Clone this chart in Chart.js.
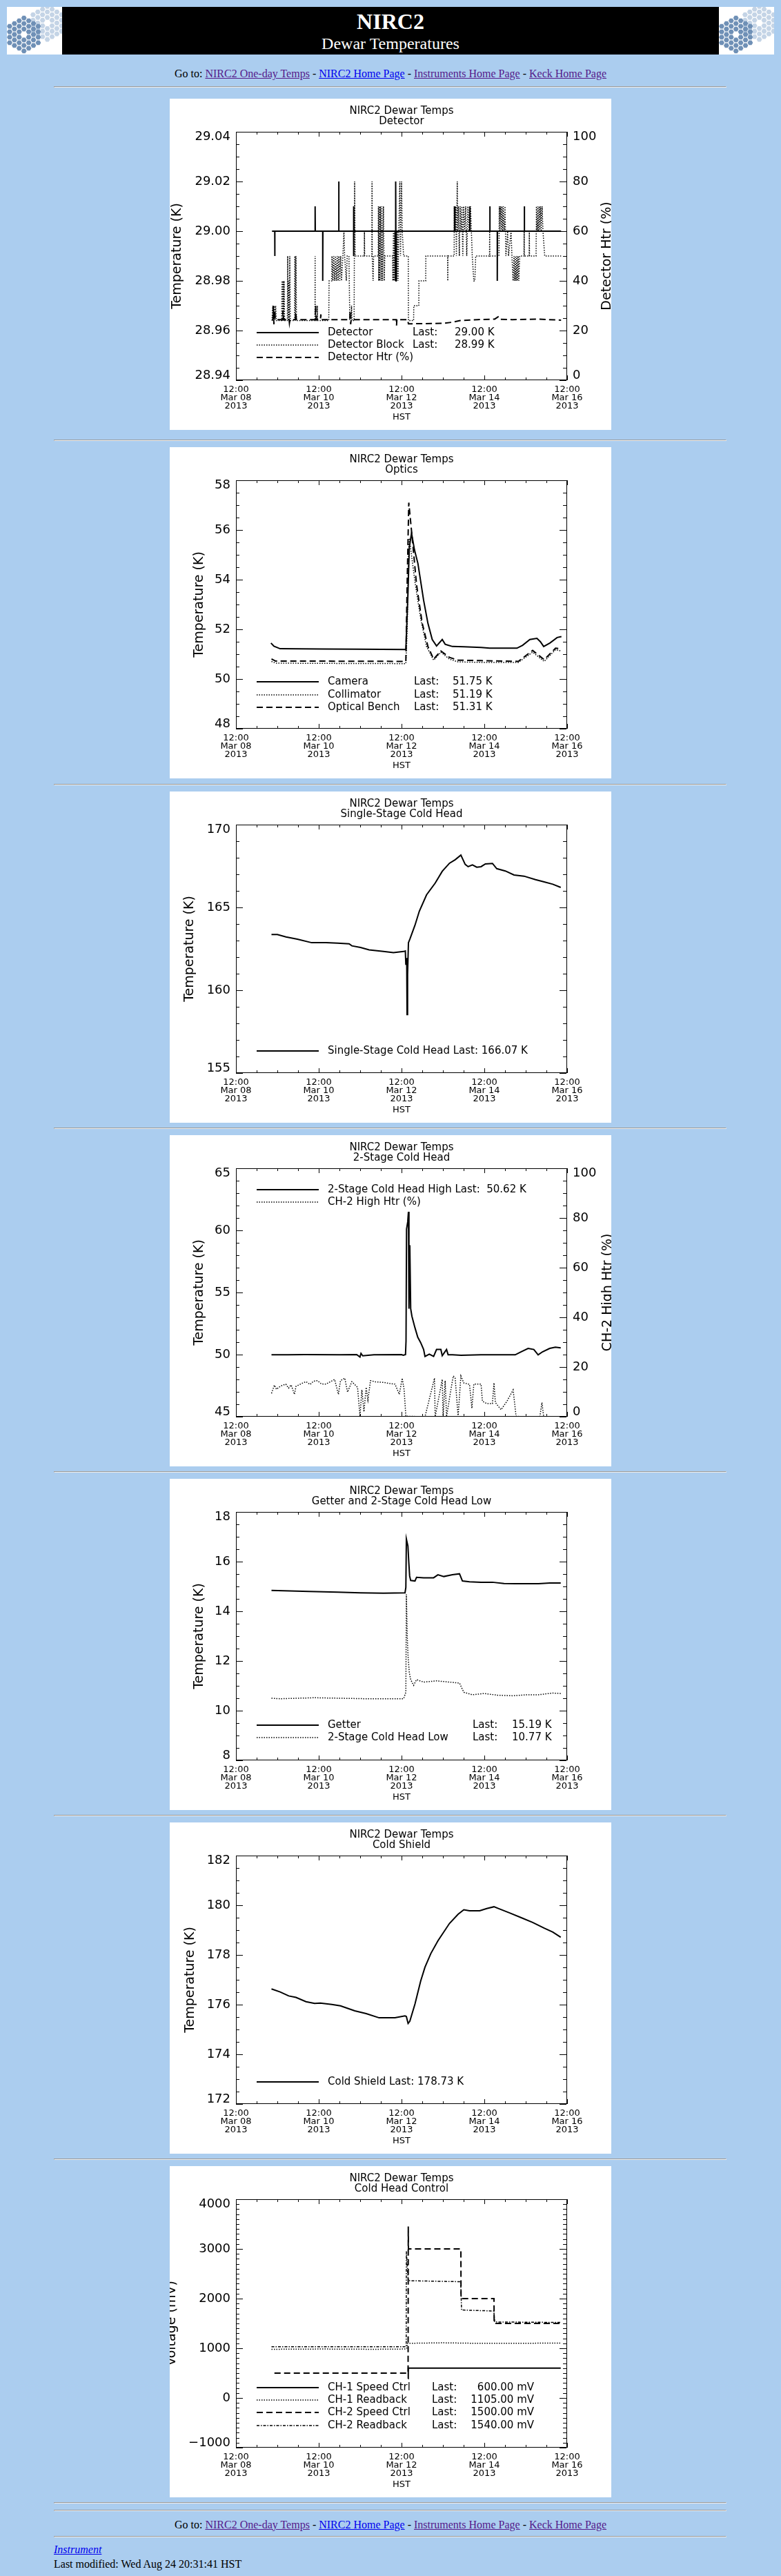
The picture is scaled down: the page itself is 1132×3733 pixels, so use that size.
<!DOCTYPE html>
<html>
<head>
<meta charset="utf-8">
<title>NIRC2 Dewar Temperatures</title>
<script src="https://cdn.jsdelivr.net/npm/chart.js@4.4.1/dist/chart.umd.min.js"></script>
<style>
  body { margin: 0; background: #abcdef; font-family: "Liberation Serif", "Times New Roman", serif; font-size: 16px; color: #000; }
  #page { position: relative; width: 1132px; height: 3733px; overflow: hidden; }
  .logo { position: absolute; top: 10px; width: 80px; height: 69px; background: #fff; }
  #banner { position: absolute; left: 90px; top: 10px; width: 952px; height: 69px; background: #000; color: #fff; text-align: center; }
  #banner div { position: absolute; left: 0; width: 952px; }
  hr { position: absolute; left: 78px; width: 973px; margin: 0; }
  .plot { position: absolute; left: 246px; width: 640px; height: 480px; background: #fff; }
  .goto { position: absolute; left: 0; width: 1132px; text-align: center; line-height: 18px; white-space: nowrap; }
  .foot { position: absolute; left: 78px; line-height: 18px; white-space: nowrap; }
  a.v { color: #551a8b; }
  a.n { color: #0000ee; }
</style>
</head>
<body>
<div id="page">
  <canvas class="logo" id="logoL" width="80" height="69" style="left:10px"></canvas>
  <div id="banner">
    <div style="top:4.9px;font:bold 32px/32px 'Liberation Serif',serif">NIRC2</div>
    <div style="top:40.6px;font:24px/24px 'Liberation Serif',serif">Dewar Temperatures</div>
  </div>
  <canvas class="logo" id="logoR" width="80" height="69" style="left:1042px"></canvas>

  <div class="goto" style="top:98.3px">Go to: <a class="v" href="#">NIRC2 One-day Temps</a> - <a class="n" href="#">NIRC2 Home Page</a> - <a class="v" href="#">Instruments Home Page</a> - <a class="v" href="#">Keck Home Page</a></div>
  <hr style="top:125px">

  <canvas class="plot" id="c1" width="640" height="480" style="top:143px"></canvas>
  <hr style="top:637px">
  <canvas class="plot" id="c2" width="640" height="480" style="top:648px"></canvas>
  <hr style="top:1136px">
  <canvas class="plot" id="c3" width="640" height="480" style="top:1147px"></canvas>
  <hr style="top:1634px">
  <canvas class="plot" id="c4" width="640" height="480" style="top:1645px"></canvas>
  <hr style="top:2132px">
  <canvas class="plot" id="c5" width="640" height="480" style="top:2143px"></canvas>
  <hr style="top:2630px">
  <canvas class="plot" id="c6" width="640" height="480" style="top:2641px"></canvas>
  <hr style="top:3128px">
  <canvas class="plot" id="c7" width="640" height="480" style="top:3139px"></canvas>
  <hr style="top:3626px">
  <hr style="top:3637px">

  <div class="goto" style="top:3649.6px">Go to: <a class="v" href="#">NIRC2 One-day Temps</a> - <a class="n" href="#">NIRC2 Home Page</a> - <a class="v" href="#">Instruments Home Page</a> - <a class="v" href="#">Keck Home Page</a></div>
  <hr style="top:3675px">
  <div class="foot" style="top:3686.3px"><a class="n" href="#"><i>Instrument</i></a></div>
  <div class="foot" style="top:3707px">Last modified: Wed Aug 24 20:31:41 HST</div>
</div>

<script>
// x values are hours after 12:00 HST, Mar 08 2013
const xTickHours = [0, 48, 96, 144, 192];
const xTickLabels = [
    ["12:00", "Mar 08", "2013"],
    ["12:00", "Mar 10", "2013"],
    ["12:00", "Mar 12", "2013"],
    ["12:00", "Mar 14", "2013"],
    ["12:00", "Mar 16", "2013"]
];
const xMinorStep = 12;

// Detector
const detHours = [20.9, 22.5, 22.5, 22.6, 45.9, 45.9, 46.0, 50.3, 50.3, 50.4, 59.6, 59.6, 59.7,
    68.2, 68.2, 68.3, 68.4, 92.4, 92.5, 92.6, 92.7, 92.8, 92.9, 126.6, 126.7, 126.8, 126.9, 127.0,
    135.6, 135.6, 135.7, 147.2, 147.2, 147.3, 151.5, 151.5, 151.6, 167.2, 167.2, 167.3, 188.5];
const detK = [29.00, 29.00, 28.99, 29.00, 29.00, 29.01, 29.00, 29.00, 28.98, 29.00, 29.00, 29.02, 29.00,
    29.00, 28.99, 29.01, 29.00, 29.00, 29.02, 28.98, 29.02, 28.98, 29.00, 29.00, 29.01, 29.00, 29.01, 29.00,
    29.00, 29.01, 29.00, 29.00, 29.01, 29.00, 29.00, 28.98, 29.00, 29.00, 29.01, 29.00, 29.00];
const blockHours = [
    20.9, 21.3, 21.7, 22.1, 22.5, 23.0, 23.4, 26.5, 26.7, 27.0,
    27.3, 27.6, 27.9, 28.2, 29.8, 30.0, 30.3, 30.6, 30.9, 31.2,
    31.5, 34.0, 34.2, 34.5, 34.8, 35.1, 45.8, 45.9, 46.0, 47.1,
    47.2, 47.3, 53.8, 54.0, 55.5, 55.7, 56.2, 56.7, 57.2, 57.7,
    58.2, 58.7, 59.2, 59.7, 60.2, 60.7, 61.2, 62.0, 62.6, 63.0,
    64.0, 64.5, 65.5, 66.0, 66.8, 67.0, 67.3, 68.5, 68.8, 69.1,
    74.4, 74.5, 74.6, 78.8, 78.9, 79.0, 79.5, 79.8, 82.5, 82.6,
    82.8, 83.1, 83.4, 83.8, 84.2, 84.6, 85.0, 85.5, 86.0, 86.3,
    90.8, 91.0, 91.3, 91.6, 92.0, 92.3, 92.8, 93.2, 93.6, 94.0,
    94.4, 95.0, 95.4, 96.0, 96.4, 97.2, 99.9, 100.0, 103.0, 103.1,
    106.0, 106.1, 110.0, 110.1, 122.7, 122.8, 122.9, 126.5, 126.6, 127.0,
    127.4, 127.8, 128.3, 128.6, 129.0, 129.5, 130.0, 130.5, 131.0, 131.5,
    132.0, 132.6, 133.2, 133.8, 134.5, 135.2, 136.0, 137.0, 137.9, 138.5,
    139.0, 147.0, 147.1, 147.2, 152.5, 152.7, 153.0, 153.4, 153.8, 154.2,
    154.6, 155.0, 155.5, 156.0, 156.5, 157.5, 158.0, 159.5, 160.0, 160.7,
    161.2, 161.6, 162.0, 162.4, 162.8, 163.2, 163.6, 164.0, 164.5, 167.0,
    167.1, 167.2, 170.0, 170.1, 170.2, 174.0, 174.2, 174.6, 175.0, 175.4,
    175.8, 176.2, 176.6, 177.0, 177.5, 178.0, 179.0, 188.5];
const blockK = [
    28.964, 28.97, 28.964, 28.97, 28.964, 28.97, 28.964, 28.964, 28.98, 28.964,
    28.98, 28.964, 28.98, 28.964, 28.964, 28.99, 28.964, 28.98, 28.964, 28.99,
    28.964, 28.964, 28.99, 28.964, 28.99, 28.964, 28.964, 28.99, 28.964, 28.964,
    28.97, 28.964, 28.964, 28.98, 28.98, 28.99, 28.98, 28.99, 28.98, 28.99,
    28.98, 28.99, 28.98, 28.99, 28.98, 28.99, 28.98, 28.99, 29.00, 28.99,
    28.98, 28.99, 28.99, 28.964, 28.964, 28.97, 28.964, 28.964, 29.02, 28.99,
    28.99, 29.00, 28.99, 28.99, 29.02, 28.99, 28.98, 28.99, 28.99, 29.01,
    28.98, 29.01, 28.98, 29.01, 28.98, 29.01, 28.98, 29.01, 28.98, 28.99,
    28.99, 28.98, 29.00, 28.98, 29.00, 28.98, 29.00, 28.98, 29.00, 28.98,
    29.00, 29.02, 28.99, 29.02, 29.00, 28.99, 28.99, 28.964, 28.964, 28.97,
    28.97, 28.98, 28.98, 28.99, 28.99, 28.98, 28.99, 28.99, 29.01, 29.00,
    29.01, 28.99, 29.02, 29.00, 29.01, 28.99, 29.01, 29.00, 29.01, 28.99,
    29.01, 29.00, 29.01, 28.99, 29.01, 29.00, 29.01, 28.99, 28.98, 28.98,
    28.99, 28.99, 29.00, 28.99, 28.99, 29.01, 29.00, 29.01, 29.00, 29.01,
    29.00, 29.01, 29.00, 29.01, 28.99, 29.00, 28.99, 29.00, 28.99, 28.98,
    28.99, 28.98, 28.99, 28.98, 28.99, 28.98, 28.99, 28.98, 28.99, 28.99,
    29.00, 28.99, 28.99, 29.00, 28.99, 28.99, 29.01, 29.00, 29.01, 29.00,
    29.01, 29.00, 29.01, 29.00, 29.01, 29.00, 28.99, 28.99];
const htrHours = [20.9, 21.5, 21.6, 22.0, 22.4, 22.8, 27.0, 27.2, 27.6, 30.8, 31.0, 31.3, 34.5, 34.7, 35.0,
    46.0, 46.2, 46.5, 49.0, 49.2, 49.5, 66.0, 66.2, 66.5, 66.8, 93.0, 93.1, 93.3, 99.5, 100.0,
    120.0, 126.0, 130.0, 140.0, 150.0, 152.0, 153.0, 160.0, 175.0, 188.5];
const htrPct = [24.4, 24.4, 29.9, 22.5, 28.0, 24.4, 24.4, 28.0, 24.4, 24.4, 23.0, 24.4, 24.4, 27.0, 24.4,
    24.4, 30.0, 24.4, 24.4, 26.5, 24.4, 24.4, 28.0, 22.5, 24.4, 24.4, 22.0, 24.4, 24.4, 22.7,
    22.9, 23.4, 24.0, 24.4, 24.6, 25.5, 24.5, 24.4, 24.6, 24.2];

// Optics
const cameraHours = [20.3, 22.0, 25.6, 50.0, 70.0, 98.5, 99.7, 100.5, 101.8, 103.5, 105.5, 108.8, 111.3,
    113.8, 116.3, 119.6, 121.3, 123.0, 125.5, 132.1, 142.1, 147.1, 162.9, 166.2, 170.4, 174.5, 176.5,
    178.4, 182.0, 186.2, 188.7];
const cameraK = [51.45, 51.32, 51.22, 51.21, 51.20, 51.19, 53.4, 55.3, 55.87, 55.2, 54.65, 53.17, 52.24,
    51.59, 51.33, 51.59, 51.40, 51.36, 51.31, 51.30, 51.27, 51.24, 51.24, 51.36, 51.59, 51.64, 51.50,
    51.31, 51.45, 51.67, 51.71];
const collHours = [20.6, 23.0, 50.0, 98.5, 99.3, 100.0, 100.5, 103.8, 107.1, 110.5, 114.6, 118.8, 123.8,
    128.8, 142.1, 163.7, 172.0, 178.7, 185.3, 188.7];
const collK = [50.71, 50.64, 50.63, 50.62, 52.0, 55.0, 55.67, 53.9, 52.43, 51.31, 50.76, 51.08, 50.80,
    50.69, 50.67, 50.67, 51.08, 50.71, 51.18, 51.13];
const benchHours = [20.6, 23.0, 50.0, 98.5, 99.3, 100.2, 102.2, 104.7, 108.0, 111.3, 114.6, 118.8, 123.8,
    128.8, 142.1, 163.7, 172.0, 178.7, 185.3, 188.7];
const benchK = [50.81, 50.72, 50.72, 50.71, 54.0, 57.1, 55.67, 53.8, 52.24, 51.31, 50.80, 51.13, 50.87,
    50.76, 50.74, 50.71, 51.15, 50.78, 51.24, 51.22];

// Single-Stage Cold Head
const ssHours = [20.6, 24.0, 29.0, 35.6, 43.9, 52.2, 58.9, 65.6, 67.2, 72.2,
    77.2, 85.5, 91.3, 97.2, 98.2, 98.5, 99.0, 99.2, 99.5, 100.0,
    100.8, 103.8, 106.3, 110.5, 115.5, 119.6, 123.8, 127.1, 130.4, 132.9,
    134.6, 137.1, 139.6, 142.1, 144.6, 148.7, 151.2, 156.2, 161.2, 167.0,
    173.7, 178.7, 183.7, 188.3];
const ssK = [163.36, 163.36, 163.22, 163.08, 162.87, 162.87, 162.84, 162.80, 162.68, 162.58,
    162.44, 162.34, 162.27, 162.34, 162.37, 161.53, 161.95, 158.53, 160.96, 162.87,
    163.08, 163.93, 164.77, 165.76, 166.47, 167.18, 167.67, 167.88, 168.16, 167.60,
    167.46, 167.57, 167.43, 167.46, 167.63, 167.66, 167.34, 167.20, 166.96, 166.89,
    166.68, 166.54, 166.40, 166.21];

// 2-Stage Cold Head
const chHighHours = [20.6, 30.0, 40.0, 60.0, 70.0, 71.9, 72.5, 73.5, 80.0, 96.0,
    97.0, 98.3, 98.6, 98.9, 99.6, 100.0, 100.3, 100.8, 101.3, 102.0,
    103.7, 105.4, 107.1, 108.8, 109.6, 112.1, 114.6, 116.3, 118.8, 119.6,
    122.1, 123.0, 125.5, 130.5, 142.0, 161.9, 165.2, 169.4, 172.7, 175.2,
    177.7, 181.9, 185.2, 188.3];
const chHighK = [49.98, 49.98, 50.0, 49.98, 50.0, 49.8, 50.1, 49.9, 49.98, 50.0,
    49.95, 50.0, 51.1, 60.1, 60.7, 61.5, 53.7, 58.8, 53.7, 53.1,
    52.2, 51.4, 50.96, 50.41, 49.85, 50.04, 49.85, 50.41, 50.41, 49.91,
    50.41, 49.98, 49.98, 49.95, 49.98, 49.98, 50.22, 50.5, 50.41, 49.98,
    50.22, 50.5, 50.59, 50.54];
const chHtrHours = [20.6, 22.3, 23.5, 24.8, 26.5, 28.9, 30.5, 32.0, 33.9, 34.8,
    36.5, 38.5, 40.6, 43.0, 45.0, 47.3, 49.5, 52.2, 54.5, 57.2,
    59.4, 60.6, 63.1, 64.7, 67.2, 70.5, 71.9, 73.0, 74.2, 75.5,
    76.5, 78.0, 81.0, 85.5, 89.0, 92.2, 94.7, 96.4, 97.5, 98.5,
    109.6, 115.1, 115.5, 119.6, 120.1, 121.3, 122.1, 124.6, 126.0, 127.1,
    128.8, 130.4, 132.1, 135.4, 136.8, 137.9, 142.1, 142.9, 145.4, 148.7,
    149.6, 150.4, 153.7, 157.1, 160.7, 162.4, 165.4, 176.2, 177.4, 178.4,
    188.3];
const chHtrPct = [9.4, 12.7, 11.0, 11.8, 12.5, 13.1, 11.5, 12.8, 9.0, 12.2,
    12.8, 13.5, 14.1, 13.0, 14.3, 14.5, 13.2, 13.1, 14.0, 15.0,
    9.0, 14.5, 15.5, 9.9, 14.1, 11.8, 0.2, 10.8, 2.0, 11.8,
    6.7, 14.5, 14.0, 13.8, 13.4, 13.1, 9.0, 15.5, 10.8, 0.2,
    0.0, 15.5, 0.0, 15.0, 0.0, 14.5, 0.0, 10.8, 16.4, 15.5,
    0.0, 16.4, 13.6, 13.0, 3.4, 13.1, 13.1, 6.2, 5.3, 5.3,
    13.6, 5.7, 2.8, 6.2, 10.8, 0.2, 0.0, 0.0, 5.7, 0.0,
    0.0];

// Getter and 2-Stage Cold Head Low
const getterHours = [20.6, 42.3, 58.9, 72.2, 85.5, 98.0, 98.5, 98.8, 99.7, 100.2,
    100.7, 101.3, 103.8, 104.7, 108.8, 114.6, 117.1, 120.5, 125.5, 129.6,
    131.3, 135.4, 142.1, 148.7, 155.4, 162.1, 168.7, 175.4, 182.0, 188.3];
const getterK = [14.84, 14.80, 14.77, 14.74, 14.73, 14.74, 14.96, 16.91, 16.63, 15.98,
    15.42, 15.24, 15.22, 15.37, 15.35, 15.35, 15.47, 15.40, 15.47, 15.51,
    15.22, 15.19, 15.17, 15.17, 15.12, 15.11, 15.11, 15.11, 15.14, 15.14];
const lowHours = [20.6, 25.6, 45.6, 75.5, 97.2, 98.5, 98.8, 99.3, 99.8, 100.5,
    101.3, 103.0, 104.7, 108.8, 116.3, 123.8, 129.6, 132.1, 137.1, 143.8,
    152.1, 160.4, 168.7, 175.4, 183.7, 188.3];
const lowK = [10.50, 10.48, 10.52, 10.48, 10.48, 10.74, 14.68, 13.00, 12.17, 11.53,
    11.25, 11.02, 11.25, 11.15, 11.20, 11.15, 11.11, 10.74, 10.64, 10.69,
    10.62, 10.60, 10.64, 10.64, 10.71, 10.69];

// Cold Shield
const shieldHours = [20.6, 25.6, 30.6, 34.8, 40.6, 45.6, 48.9, 55.6, 60.6, 68.9,
    75.5, 83.0, 92.2, 98.0, 98.8, 99.8, 100.8, 103.8, 107.1, 109.6,
    113.0, 117.1, 123.8, 128.8, 132.1, 135.4, 141.3, 145.4, 149.6, 152.1,
    158.7, 165.4, 172.0, 178.7, 183.7, 188.3];
const shieldK = [176.63, 176.51, 176.35, 176.29, 176.12, 176.05, 176.06, 176.01, 175.95, 175.75,
    175.64, 175.47, 175.47, 175.55, 175.52, 175.24, 175.33, 176.03, 176.95, 177.51,
    178.06, 178.57, 179.27, 179.64, 179.82, 179.78, 179.78, 179.87, 179.94, 179.87,
    179.69, 179.50, 179.31, 179.08, 178.92, 178.71];

// Cold Head Control
const ch1SpeedHours = [99.8, 99.9, 188.3];
const ch1SpeedMv = [390, 600, 600];
const ch1ReadHours = [20.6, 50.0, 80.0, 98.5, 99.0, 99.5, 120.0, 140.0, 160.0, 188.3];
const ch1ReadMv = [980, 985, 980, 985, 1000, 1100, 1110, 1100, 1100, 1105];
const ch2SpeedHours = [22.3, 99.8, 99.9, 100.0, 130.4, 130.5, 149.6, 149.7, 188.3];
const ch2SpeedMv = [500, 500, 3450, 3000, 3000, 2000, 2000, 1500, 1500];
const ch2ReadHours = [20.6, 98.7, 98.8, 99.8, 100.3, 115.0, 130.3, 130.8, 149.5, 150.0, 188.3];
const ch2ReadMv = [1030, 1030, 2950, 2400, 2360, 2350, 2340, 1770, 1750, 1530, 1520];

// axis tick values
const detTicksK = [28.94, 28.96, 28.98, 29.00, 29.02, 29.04];
const pctTicks = [0, 20, 40, 60, 80, 100];
const opticsTicks = [48, 50, 52, 54, 56, 58];
const ssTicks = [155, 160, 165, 170];
const chHighTicks = [45, 50, 55, 60, 65];
const getterTicks = [8, 10, 12, 14, 16, 18];
const shieldTicks = [172, 174, 176, 178, 180, 182];
const voltTicks = [-1000, 0, 1000, 2000, 3000, 4000];

const FONT = "'DejaVu Sans', sans-serif";
Chart.defaults.font.family = FONT;
Chart.defaults.color = "#000";

const SOLID = { borderWidth: 2, borderDash: [] };
const DOTTED = { borderWidth: 1.5, borderDash: [1.5, 2] };
const DASHED = { borderWidth: 2, borderDash: [9, 5] };
const DASHDOT = { borderWidth: 1.5, borderDash: [4, 2, 1.5, 2] };

function toPoints(xs, ys) {
    return xs.map((x, i) => ({ x: x, y: ys[i] }));
}

function series(xs, ys, style, axis) {
    return Object.assign({
        data: toPoints(xs, ys),
        borderColor: "#000",
        pointRadius: 0,
        fill: false,
        tension: 0,
        yAxisID: axis || "y"
    }, style);
}

// Box and inward tick marks, IDL style
const idlFrame = {
    id: "idlFrame",
    afterDraw(chart, args, o) {
        const { ctx, chartArea: a, scales } = chart;
        ctx.save();
        ctx.strokeStyle = "#000";
        ctx.lineWidth = 1;
        ctx.setLineDash([]);
        ctx.strokeRect(a.left + 0.5, a.top + 0.5, a.right - a.left - 1, a.bottom - a.top - 1);
        ctx.beginPath();
        for (let h = xTickHours[0]; h <= xTickHours[xTickHours.length - 1]; h += xMinorStep) {
            const px = Math.round(scales.x.getPixelForValue(h)) + 0.5;
            const len = xTickHours.includes(h) ? 7 : 4;
            ctx.moveTo(px, a.bottom); ctx.lineTo(px, a.bottom - len);
            ctx.moveTo(px, a.top); ctx.lineTo(px, a.top + len);
        }
        yMarks(ctx, scales.y, o.y, a.left, 1);
        if (o.y2) yMarks(ctx, scales.y2, o.y2, a.right - 1, -1);
        else yMarks(ctx, scales.y, o.y, a.right - 1, -1);
        ctx.stroke();

        if (o.rightTitle) {
            ctx.font = "19px " + FONT;
            ctx.fillStyle = "#000";
            ctx.textAlign = "center";
            ctx.textBaseline = "middle";
            ctx.translate(o.rightTitle.x, (a.top + a.bottom) / 2);
            ctx.rotate(-Math.PI / 2);
            ctx.fillText(o.rightTitle.text, 0, 0);
        }
        ctx.restore();
    }
};

function yMarks(ctx, scale, ax, x0, dir) {
    const lo = ax.ticks[0];
    const major = ax.ticks[1] - ax.ticks[0];
    const per = Math.round(major / ax.minor);
    const n = Math.round((ax.ticks[ax.ticks.length - 1] - lo) / ax.minor);
    for (let i = 0; i <= n; i++) {
        const py = Math.round(scale.getPixelForValue(lo + i * ax.minor)) + 0.5;
        const len = i % per === 0 ? 10 : 5;
        ctx.moveTo(x0, py);
        ctx.lineTo(x0 + dir * len, py);
    }
}

// Legend drawn inside the plot, with "Last:" readouts
const idlLegend = {
    id: "idlLegend",
    afterDraw(chart, args, o) {
        if (!o.rows) return;
        const ctx = chart.ctx;
        ctx.save();
        ctx.font = "15px " + FONT;
        ctx.textBaseline = "middle";
        ctx.fillStyle = "#000";
        ctx.strokeStyle = "#000";
        o.rows.forEach(r => {
            const ds = chart.data.datasets[r.ds];
            ctx.lineWidth = ds.borderWidth;
            ctx.setLineDash(ds.borderDash || []);
            ctx.beginPath();
            ctx.moveTo(126, r.y);
            ctx.lineTo(216, r.y);
            ctx.stroke();
            ctx.setLineDash([]);
            ctx.textAlign = "left";
            if (r.last === undefined) {
                ctx.fillText(r.name, 229, r.y);
            } else if (o.lastX === undefined) {
                ctx.fillText(r.name + o.sep + r.last, 229, r.y);
            } else {
                ctx.fillText(r.name, 229, r.y);
                ctx.fillText("Last:", o.lastX, r.y);
                if (o.valRight) {
                    ctx.textAlign = "right";
                    ctx.fillText(r.last, o.valRight, r.y);
                } else {
                    ctx.fillText(r.last, o.valX, r.y);
                }
            }
        });
        ctx.restore();
    }
};

function yScale(ax, pos) {
    return {
        type: "linear",
        position: pos,
        min: ax.ticks[0],
        max: ax.ticks[ax.ticks.length - 1],
        afterFit: s => { s.width = pos === "left" ? 96 : 64; },
        afterBuildTicks: s => { s.ticks = ax.ticks.map(v => ({ value: v })); },
        grid: { display: false, drawTicks: false },
        border: { display: false },
        ticks: {
            padding: 8,
            autoSkip: false,
            color: "#000",
            font: { size: 18, lineHeight: "14px" },
            callback: (v, i, t) => {
                const s = ax.fmt(v);
                // IDL keeps the end labels inside the box
                if (i === t.length - 1) return ["", s];
                if (i === 0) return [s, ""];
                return s;
            }
        },
        title: pos === "left" ? {
            display: true,
            text: ax.title,
            color: "#000",
            font: { size: 19, lineHeight: "20px" },
            padding: { top: ax.titleX - 10, bottom: 0 }
        } : { display: false }
    };
}

function xScale() {
    return {
        type: "linear",
        min: xTickHours[0],
        max: xTickHours[xTickHours.length - 1],
        afterFit: s => { s.height = 72; },
        afterBuildTicks: s => { s.ticks = xTickHours.map(v => ({ value: v })); },
        grid: { display: false, drawTicks: false },
        border: { display: false },
        ticks: {
            padding: 8,
            maxRotation: 0,
            autoSkip: false,
            color: "#000",
            font: { size: 13, lineHeight: "12px" },
            callback: (v, i) => xTickLabels[i]
        },
        title: {
            display: true,
            text: "HST",
            color: "#000",
            font: { size: 13, lineHeight: "14px" },
            padding: { top: 0, bottom: 11 }
        }
    };
}

function makeChart(id, spec) {
    const scales = { x: xScale(), y: yScale(spec.y, "left") };
    if (spec.y2) scales.y2 = yScale(spec.y2, "right");
    return new Chart(document.getElementById(id), {
        type: "line",
        data: { datasets: spec.datasets },
        options: {
            responsive: false,
            animation: false,
            devicePixelRatio: 1,
            events: [],
            layout: { padding: { right: spec.y2 ? 0 : 64 } },
            plugins: {
                legend: { display: false },
                tooltip: { enabled: false },
                title: {
                    display: true,
                    text: ["NIRC2 Dewar Temps", spec.subtitle],
                    fullSize: false,
                    color: "#000",
                    font: { size: 15, weight: "normal", lineHeight: "15px" },
                    padding: { top: 11, bottom: 7 }
                },
                idlFrame: { y: spec.y, y2: spec.y2, rightTitle: spec.rightTitle },
                idlLegend: spec.legend
            },
            scales: scales
        },
        plugins: [idlFrame, idlLegend]
    });
}

const fmtInt = v => String(v);
const fmtVolt = v => (v < 0 ? "\u2212" + Math.abs(v) : String(v));

makeChart("c1", {
    subtitle: "Detector",
    y: { ticks: detTicksK, minor: 0.005, fmt: v => v.toFixed(2), title: "Temperature (K)", titleX: 11.4 },
    y2: { ticks: pctTicks, minor: 5, fmt: fmtInt },
    rightTitle: { text: "Detector Htr (%)", x: 634 },
    datasets: [
        series(detHours, detK, SOLID),
        series(blockHours, blockK, DOTTED),
        series(htrHours, htrPct, DASHED, "y2")
    ],
    legend: {
        lastX: 352, valX: 413,
        rows: [
            { ds: 0, y: 339, name: "Detector", last: "29.00 K" },
            { ds: 1, y: 357, name: "Detector Block", last: "28.99 K" },
            { ds: 2, y: 375, name: "Detector Htr (%)" }
        ]
    }
});

makeChart("c2", {
    subtitle: "Optics",
    y: { ticks: opticsTicks, minor: 0.5, fmt: fmtInt, title: "Temperature (K)", titleX: 43 },
    datasets: [
        series(cameraHours, cameraK, SOLID),
        series(collHours, collK, DOTTED),
        series(benchHours, benchK, DASHED)
    ],
    legend: {
        lastX: 354, valX: 410,
        rows: [
            { ds: 0, y: 340, name: "Camera", last: "51.75 K" },
            { ds: 1, y: 359, name: "Collimator", last: "51.19 K" },
            { ds: 2, y: 377, name: "Optical Bench", last: "51.31 K" }
        ]
    }
});

makeChart("c3", {
    subtitle: "Single-Stage Cold Head",
    y: { ticks: ssTicks, minor: 1, fmt: fmtInt, title: "Temperature (K)", titleX: 28.7 },
    datasets: [series(ssHours, ssK, SOLID)],
    legend: {
        sep: " Last: ",
        rows: [{ ds: 0, y: 376, name: "Single-Stage Cold Head", last: "166.07 K" }]
    }
});

makeChart("c4", {
    subtitle: "2-Stage Cold Head",
    y: { ticks: chHighTicks, minor: 1, fmt: fmtInt, title: "Temperature (K)", titleX: 43 },
    y2: { ticks: pctTicks, minor: 5, fmt: fmtInt },
    rightTitle: { text: "CH-2 High Htr (%)", x: 635 },
    datasets: [
        series(chHighHours, chHighK, SOLID),
        series(chHtrHours, chHtrPct, DOTTED, "y2")
    ],
    legend: {
        sep: " Last:  ",
        rows: [
            { ds: 0, y: 79, name: "2-Stage Cold Head High", last: "50.62 K" },
            { ds: 1, y: 97, name: "CH-2 High Htr (%)" }
        ]
    }
});

makeChart("c5", {
    subtitle: "Getter and 2-Stage Cold Head Low",
    y: { ticks: getterTicks, minor: 0.5, fmt: fmtInt, title: "Temperature (K)", titleX: 43 },
    datasets: [
        series(getterHours, getterK, SOLID),
        series(lowHours, lowK, DOTTED)
    ],
    legend: {
        lastX: 439, valX: 496,
        rows: [
            { ds: 0, y: 357, name: "Getter", last: "15.19 K" },
            { ds: 1, y: 375, name: "2-Stage Cold Head Low", last: "10.77 K" }
        ]
    }
});

makeChart("c6", {
    subtitle: "Cold Shield",
    y: { ticks: shieldTicks, minor: 0.5, fmt: fmtInt, title: "Temperature (K)", titleX: 30 },
    datasets: [series(shieldHours, shieldK, SOLID)],
    legend: {
        sep: " Last: ",
        rows: [{ ds: 0, y: 376, name: "Cold Shield", last: "178.73 K" }]
    }
});

makeChart("c7", {
    subtitle: "Cold Head Control",
    y: { ticks: voltTicks, minor: 100, fmt: fmtVolt, title: "Voltage (mV)", titleX: 3 },
    datasets: [
        series(ch1SpeedHours, ch1SpeedMv, SOLID),
        series(ch1ReadHours, ch1ReadMv, DOTTED),
        series(ch2SpeedHours, ch2SpeedMv, DASHED),
        series(ch2ReadHours, ch2ReadMv, DASHDOT)
    ],
    legend: {
        lastX: 380, valRight: 528,
        rows: [
            { ds: 0, y: 321, name: "CH-1 Speed Ctrl", last: "600.00 mV" },
            { ds: 1, y: 339, name: "CH-1 Readback", last: "1105.00 mV" },
            { ds: 2, y: 357, name: "CH-2 Speed Ctrl", last: "1500.00 mV" },
            { ds: 3, y: 376, name: "CH-2 Readback", last: "1540.00 mV" }
        ]
    }
});

// Keck primary mirror logos in the banner
function drawMirror(ctx, cx, cy, color) {
    const s = 4.6;
    ctx.fillStyle = color;
    for (let q = -3; q <= 3; q++) {
        for (let r = -3; r <= 3; r++) {
            if (Math.abs(q + r) > 3 || (q === 0 && r === 0)) continue;
            const x = cx + s * 1.5 * q;
            const y = cy + s * Math.sqrt(3) * (r + q / 2);
            ctx.beginPath();
            for (let k = 0; k < 6; k++) {
                const ang = Math.PI / 3 * k;
                const px = x + s * 0.85 * Math.cos(ang);
                const py = y + s * 0.85 * Math.sin(ang);
                if (k) ctx.lineTo(px, py); else ctx.moveTo(px, py);
            }
            ctx.fill();
        }
    }
}

function drawLogo(id) {
    const ctx = document.getElementById(id).getContext("2d");
    ctx.fillStyle = "#fff";
    ctx.fillRect(0, 0, 80, 69);
    drawMirror(ctx, 58.6, 23.3, "#c4d4e6");
    drawMirror(ctx, 24.7, 40, "#6f90b6");
}

drawLogo("logoL");
drawLogo("logoR");
</script>
</body>
</html>
